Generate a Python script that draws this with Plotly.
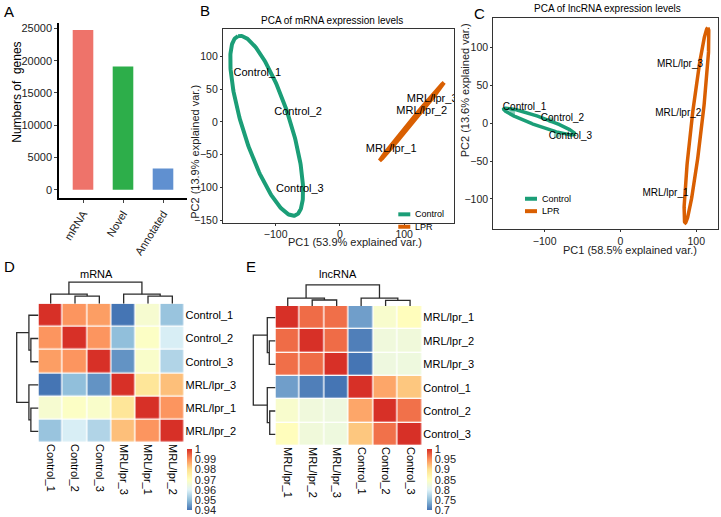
import numpy as np
import plotly.graph_objects as go

W, H = 721, 517
FONT = "Liberation Sans, Arial, sans-serif"

# ---- panel A: gene counts ----
gene_types = ["mRNA", "Novel", "Annotated"]
gene_counts = [24740, 19100, 3320]
gene_colors = ["#EE736A", "#2DAE4A", "#6090D0"]
count_ticks = [0, 5000, 10000, 15000, 20000, 25000]

# ---- PCA panels ----
groups = ["Control", "LPR"]
group_colors = ["#1B9E77", "#D95F02"]
samples = ["Control_1", "Control_2", "Control_3", "MRL/lpr_1", "MRL/lpr_2", "MRL/lpr_3"]

mrna_pc1 = [-128.5, -65, -62.3, 79.9, 127.3, 143.6]
mrna_pc2 = [74.4, 14.4, -103.3, -41.7, 16.4, 34.5]
# ellipse per group: centre, semi axes, angle (deg)
mrna_ell_cx = [-114, 112]
mrna_ell_cy = [-6, 0.4]
mrna_ell_a = [144, 78]
mrna_ell_b = [37, 2]
mrna_ell_ang = [108, 50]

lnc_pc1 = [-126.6, -76.5, -66, 59.4, 76.3, 78.5]
lnc_pc2 = [21.3, 6.4, -17.7, -93.3, 13, 77.3]
lnc_ctrl_pt1 = [-143, -92, -84]
lnc_ctrl_pt2 = [13.4, 4, -15.5]
lnc_ell_cx = [-107, 100.3]
lnc_ell_cy = [2.2, -2.7]
lnc_ell_a = [50, 130]
lnc_ell_b = [6, 7]
lnc_ell_ang = [-19.7, 83.4]

# ---- correlation heatmaps ----
mrna_order = ["Control_1", "Control_2", "Control_3", "MRL/lpr_3", "MRL/lpr_1", "MRL/lpr_2"]
mrna_corr = [
    [1.000, 0.989, 0.988, 0.940, 0.967, 0.951],
    [0.989, 1.000, 0.989, 0.950, 0.969, 0.959],
    [0.988, 0.989, 1.000, 0.944, 0.968, 0.954],
    [0.940, 0.950, 0.944, 1.000, 0.978, 0.984],
    [0.967, 0.969, 0.968, 0.978, 1.000, 0.989],
    [0.951, 0.959, 0.954, 0.984, 0.989, 1.000],
]
mrna_ticks = [1, 0.99, 0.98, 0.97, 0.96, 0.95, 0.94]
# linkage: (left, right, height) ; new nodes numbered from 6
mrna_link = [(1, 2, 0.35), (0, 6, 0.44), (4, 5, 0.35), (3, 8, 0.44), (7, 9, 1.0)]

lnc_order = ["MRL/lpr_1", "MRL/lpr_2", "MRL/lpr_3", "Control_1", "Control_2", "Control_3"]
lnc_corr = [
    [1.000, 0.968, 0.966, 0.728, 0.838, 0.853],
    [0.968, 1.000, 0.968, 0.707, 0.825, 0.826],
    [0.966, 0.968, 1.000, 0.700, 0.822, 0.823],
    [0.728, 0.707, 0.700, 1.000, 0.935, 0.915],
    [0.838, 0.825, 0.822, 0.935, 1.000, 0.965],
    [0.853, 0.826, 0.823, 0.915, 0.965, 1.000],
]
lnc_ticks = [1, 0.95, 0.9, 0.85, 0.8, 0.75, 0.7]
lnc_link = [(1, 2, 0.28), (0, 6, 0.37), (4, 5, 0.26), (3, 8, 0.37), (7, 9, 1.0)]

rdylbu = ["#4575B4", "#91BFDB", "#E0F3F8", "#FFFFBF", "#FEE090", "#FC8D59", "#D73027"]
colorscale = [[i / 6, c] for i, c in enumerate(rdylbu)]


def px(x, y):
    return x / W, 1 - y / H


def xdom(x0, x1):
    return [x0 / W, x1 / W]


def ydom(top, bottom):
    return [1 - bottom / H, 1 - top / H]


def ellipse_xy(cx, cy, a, b, ang):
    t = np.linspace(0, 2 * np.pi, 240)
    th = np.deg2rad(ang)
    x = cx + a * np.cos(t) * np.cos(th) - b * np.sin(t) * np.sin(th)
    y = cy + a * np.cos(t) * np.sin(th) + b * np.sin(t) * np.cos(th)
    return x, y


def dendro_lines(link, n):
    pos = {i: float(i) for i in range(n)}
    hgt = {i: 0.0 for i in range(n)}
    xs, ys = [], []
    for k, (i, j, h) in enumerate(link):
        xs += [pos[i], pos[i], pos[j], pos[j], None]
        ys += [hgt[i], h, h, hgt[j], None]
        pos[n + k] = (pos[i] + pos[j]) / 2
        hgt[n + k] = h
    return xs, ys


fig = go.Figure()

# A
fig.add_trace(go.Bar(
    x=list(range(len(gene_types))), y=gene_counts, width=0.515,
    marker=dict(color=gene_colors, line=dict(width=0)),
    xaxis="x", yaxis="y",
))


def add_pca(ax, pc1, pc2, cx, cy, a, b, ang, lw, size):
    for g in range(len(groups)):
        ex, ey = ellipse_xy(cx[g], cy[g], a[g], b[g], ang[g])
        fig.add_trace(go.Scatter(
            x=ex, y=ey, mode="lines",
            line=dict(color=group_colors[g], width=lw),
            xaxis="x" + ax, yaxis="y" + ax,
        ))
    fig.add_trace(go.Scatter(
        x=pc1, y=pc2, mode="text", text=samples, cliponaxis=True,
        textfont=dict(size=size, color="black", family=FONT),
        xaxis="x" + ax, yaxis="y" + ax,
    ))


# B
add_pca("2", mrna_pc1, mrna_pc2, mrna_ell_cx, mrna_ell_cy, mrna_ell_a,
        mrna_ell_b, mrna_ell_ang, 4, 11)
# C
fig.add_trace(go.Scatter(
    x=lnc_ctrl_pt1, y=lnc_ctrl_pt2, mode="markers",
    marker=dict(color=group_colors[0], size=6, opacity=0.5),
    xaxis="x3", yaxis="y3",
))
add_pca("3", lnc_pc1, lnc_pc2, lnc_ell_cx, lnc_ell_cy, lnc_ell_a,
        lnc_ell_b, lnc_ell_ang, 3.5, 10)


def add_heat(hx, cdx, rdx, corr, ticks, link, cb_x):
    n = len(corr)
    fig.add_trace(go.Heatmap(
        z=corr, x=list(range(n)), y=list(range(n)),
        colorscale=colorscale, zmin=min(ticks), zmax=max(ticks),
        xgap=1.3, ygap=1.3, xaxis="x" + hx, yaxis="y" + hx,
        colorbar=dict(
            x=cb_x / W, xanchor="left", y=1 - 451.7 / H, yanchor="top",
            len=61.3, lenmode="pixels", thickness=5, thicknessmode="pixels",
            xpad=0, ypad=0, outlinewidth=0, tickvals=ticks,
            ticktext=[f"{t:g}" for t in ticks], ticks="",
            tickfont=dict(size=11, color="#222", family=FONT),
        ),
    ))
    xs, ys = dendro_lines(link, n)
    fig.add_trace(go.Scatter(
        x=xs, y=ys, mode="lines", line=dict(color="#2b2b2b", width=1.3),
        xaxis="x" + cdx, yaxis="y" + cdx,
    ))
    fig.add_trace(go.Scatter(
        x=ys, y=xs, mode="lines", line=dict(color="#2b2b2b", width=1.3),
        xaxis="x" + rdx, yaxis="y" + rdx,
    ))


add_heat("4", "5", "6", mrna_corr, mrna_ticks, mrna_link, 186.7)
add_heat("7", "8", "9", lnc_corr, lnc_ticks, lnc_link, 426.7)

tick_font = dict(size=11, color="#222", family=FONT)
pca_tick_font = dict(size=10.5, color="#222", family=FONT)
blank = dict(showgrid=False, zeroline=False, showticklabels=False,
             ticks="", showline=False)
box = dict(showgrid=False, zeroline=False, showline=True, mirror=True,
           linecolor="#333", linewidth=1.2, ticks="outside", ticklen=2,
           tickcolor="#333", tickfont=pca_tick_font)

layout = dict(
    width=W, height=H, margin=dict(l=0, r=0, t=0, b=0),
    paper_bgcolor="white", plot_bgcolor="white", showlegend=False,
    font=dict(family=FONT, color="black"),
    xaxis=dict(domain=xdom(59, 187), range=[-0.6, 2.6], showgrid=False,
               zeroline=False, showline=True, linecolor="black", linewidth=1.5,
               tickvals=list(range(3)), ticktext=gene_types, tickangle=-58,
               ticks="outside", ticklen=3, tickfont=tick_font),
    yaxis=dict(domain=ydom(22, 199), range=[-1337, 25865], showgrid=False,
               zeroline=False, showline=True, linecolor="black", linewidth=1.5,
               tickvals=count_ticks, ticktext=[str(v) for v in count_ticks],
               ticks="outside", ticklen=3, tickfont=tick_font),
    xaxis2=dict(domain=xdom(223, 454), range=[-182, 177.6],
                tickvals=[-100, 0, 100], anchor="y2", **box),
    yaxis2=dict(domain=ydom(28.3, 223.3), range=[-153.8, 141.7],
                tickvals=[-150, -100, -50, 0, 50, 100], anchor="x2", **box),
    xaxis3=dict(domain=xdom(493.3, 717.5), range=[-167.8, 128],
                tickvals=[-100, 0, 100], anchor="y3", **box),
    yaxis3=dict(domain=ydom(17.3, 230), range=[-140.2, 139],
                tickvals=[-100, -50, 0, 50, 100], anchor="x3", **box),
)


def heat_axes(hx, cdx, rdx, labels, left, right, top, bottom, croot, rroot):
    n = len(labels)
    cell_font = dict(size=11, color="black", family=FONT)
    layout["xaxis" + hx] = dict(domain=xdom(left, right), range=[-0.5, n - 0.5],
                                anchor="y" + hx, tickvals=list(range(n)),
                                ticktext=labels, tickangle=90, ticks="",
                                showgrid=False, zeroline=False, tickfont=cell_font)
    layout["yaxis" + hx] = dict(domain=ydom(top, bottom), range=[n - 0.5, -0.5],
                                anchor="x" + hx, side="right",
                                tickvals=list(range(n)), ticktext=labels,
                                ticks="", showgrid=False, zeroline=False,
                                tickfont=cell_font)
    ch = top - croot
    layout["xaxis" + cdx] = dict(domain=xdom(left, right), range=[-0.5, n - 0.5],
                                 anchor="y" + cdx, **blank)
    layout["yaxis" + cdx] = dict(domain=ydom(top - ch * 1.1, top), range=[0, 1.1],
                                 anchor="x" + cdx, **blank)
    rw = left - rroot
    layout["xaxis" + rdx] = dict(domain=xdom(left - rw * 1.1, left), range=[1.1, 0],
                                 anchor="y" + rdx, **blank)
    layout["yaxis" + rdx] = dict(domain=ydom(top, bottom), range=[n - 0.5, -0.5],
                                 anchor="x" + rdx, **blank)


heat_axes("4", "5", "6", mrna_order, 38.5, 184.5, 305, 445.5, 283.3, 16.7)
heat_axes("7", "8", "9", lnc_order, 275.5, 422.3, 307.3, 448.5, 286, 253.3)

annotations = []


def note(text, x, y, size, angle=0, xanchor="center", color="black"):
    ax, ay = px(x, y)
    annotations.append(dict(
        text=text, x=ax, y=ay, xref="paper", yref="paper", showarrow=False,
        xanchor=xanchor, yanchor="middle", textangle=angle,
        font=dict(size=size, color=color, family=FONT),
    ))


for letter, lx, ly in [("A", 9, 11), ("B", 204.5, 10), ("C", 479, 12.5),
                       ("D", 9, 267.5), ("E", 251, 267.5)]:
    note(letter, lx, ly, 15)

note("Numbers of  genes", 17, 92.5, 12, angle=-90)
note("PCA of mRNA expression levels", 332, 20, 10)
note("PC1 (53.9% explained var.)", 355, 243, 11, color="#222")
note("PC2 (13.9% explained var.)", 195, 152, 11, angle=-90, color="#222")
note("PCA of lncRNA expression levels", 607, 7.5, 10)
note("PC1 (58.5% explained var.)", 630, 251, 11, color="#222")
note("PC2 (13.6% explained var.)", 465, 90, 11, angle=-90, color="#222")
note("mRNA", 96, 275, 11)
note("lncRNA", 337.5, 275, 11)

# legends for the two PCA panels
shapes = []
for lx, ly in [(398.3, 215), (525, 199.3)]:
    for g, name in enumerate(groups):
        yy = ly + g * 12.5
        x0, y0 = px(lx, yy)
        x1, _ = px(lx + 12, yy)
        shapes.append(dict(type="line", xref="paper", yref="paper",
                           x0=x0, x1=x1, y0=y0, y1=y0,
                           line=dict(color=group_colors[g], width=4)))
        note(name, lx + 14.5, yy, 9, xanchor="left")

layout["annotations"] = annotations
layout["shapes"] = shapes
fig.update_layout(**layout)

fig.write_html("out.html", config={"displayModeBar": False},
               post_script="document.body.style.margin='0px';")
